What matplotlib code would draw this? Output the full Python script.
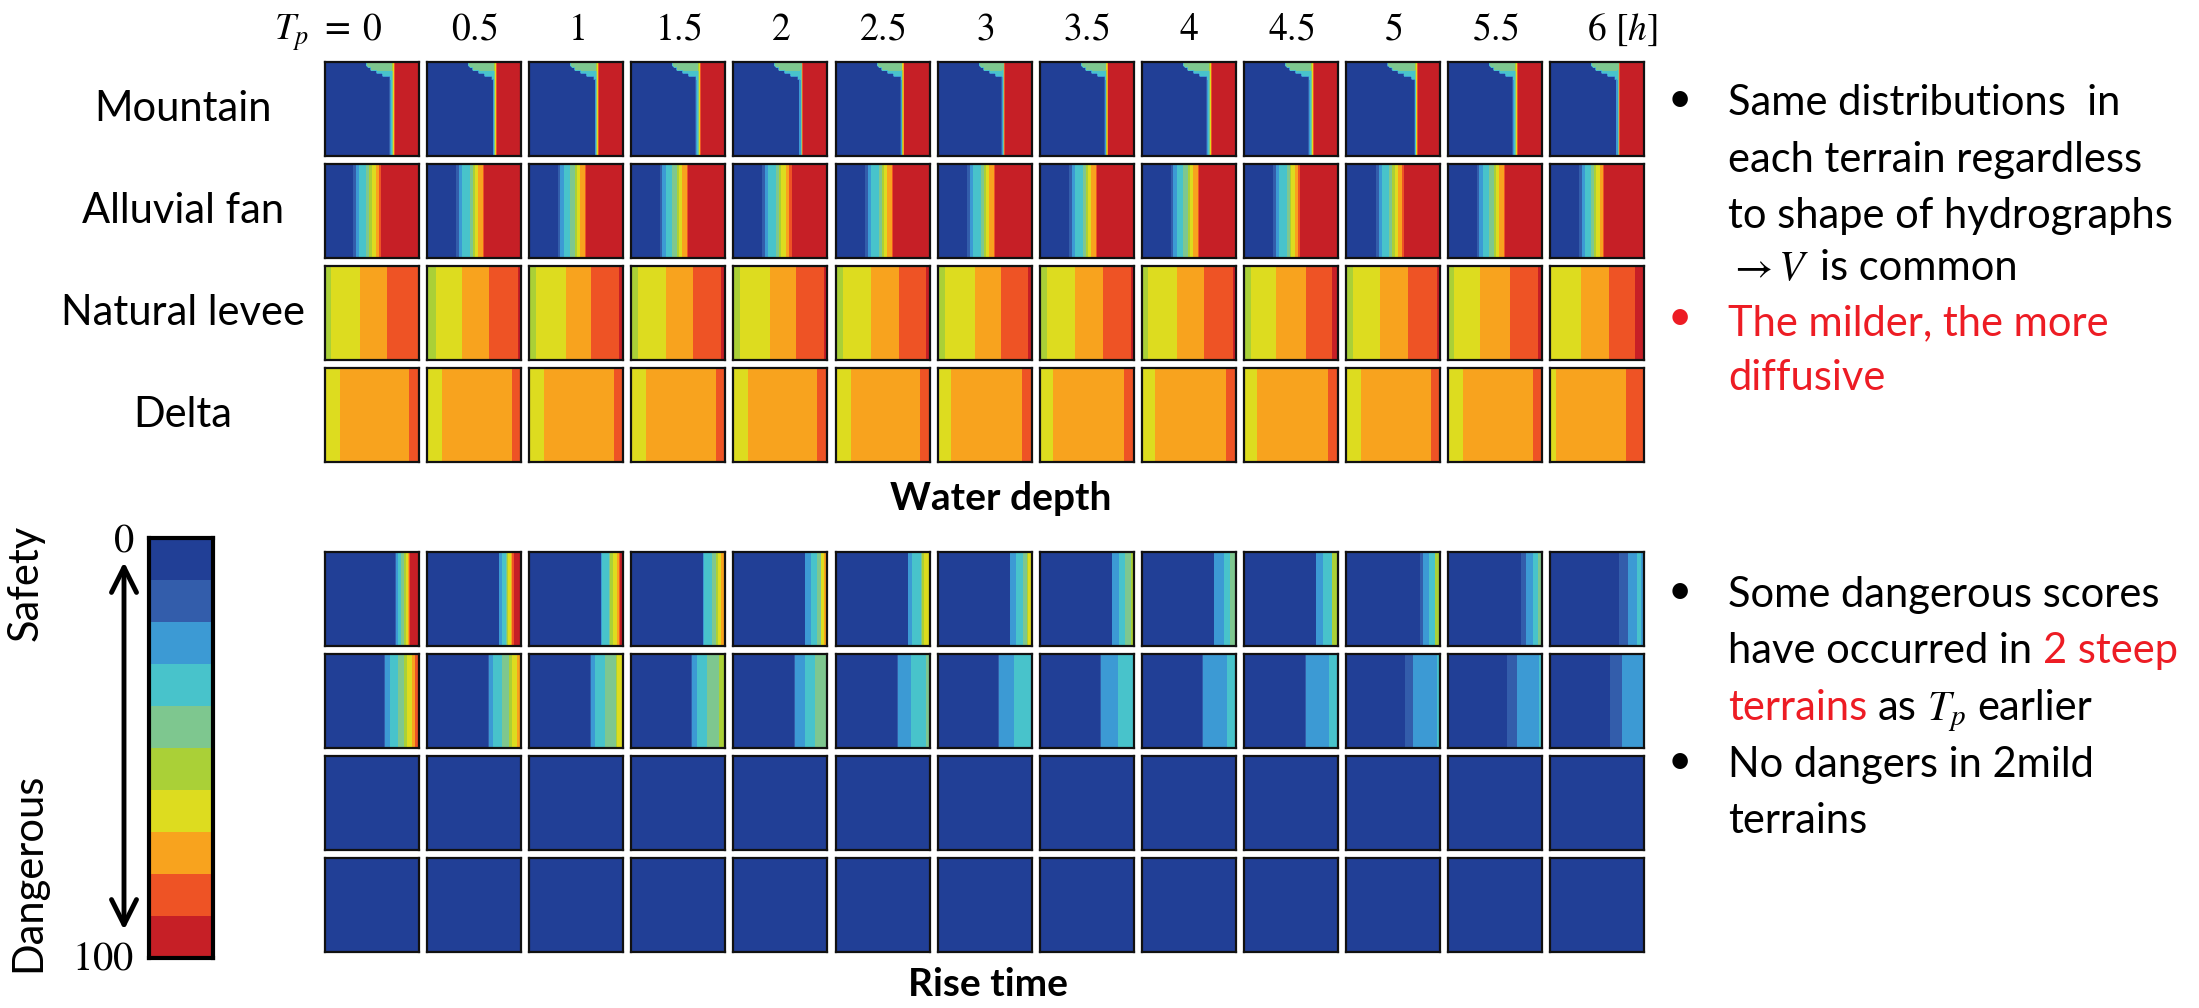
import numpy as np
import matplotlib.pyplot as plt
from matplotlib.colors import ListedColormap

plt.rcParams['mathtext.fontset'] = 'stix'
plt.rcParams['font.family'] = ['Lato', 'DejaVu Sans']

W, H = 2199, 1008

# score colours, 0 (safe) -> 100 (dangerous), one per 10 points
score_colors = ["#213F96", "#335DAB", "#3C9AD4", "#48C3CB", "#7EC78F",
                "#AAD037", "#DDDC1F", "#F8A31E", "#EE5325", "#C61F26"]
red_text = "#ED1C24"

tp_labels = ["0", "0.5", "1", "1.5", "2", "2.5", "3", "3.5", "4", "4.5", "5", "5.5", "6"]
terrains = ["Mountain", "Alluvial fan", "Natural levee", "Delta"]

# ---- water depth ----
# mountain: blue/red boundary (fraction of panel width) for each Tp
mtn_edge = [0.73, 0.735, 0.735, 0.73, 0.74, 0.72, 0.71, 0.72, 0.73, 0.73, 0.75, 0.73, 0.74]
# shallow blob at the top of the mountain panels (deepest first)
hook_depth = [0.19, 0.16, 0.13, 0.10, 0.07, 0.04]
hook_left = [0.69, 0.61, 0.54, 0.49, 0.46, 0.44]
hook_level = [3, 3, 3, 4, 4, 4]

# alluvial fan: end of blue zone, start of red zone
fan_blue_end = [0.30, 0.32, 0.31, 0.31, 0.32, 0.32, 0.32, 0.32, 0.31, 0.32, 0.32, 0.31, 0.32]
fan_red_start = [0.60, 0.61, 0.61, 0.61, 0.62, 0.61, 0.61, 0.61, 0.61, 0.60, 0.61, 0.61, 0.58]
fan_rel = [0.0, 0.07, 0.20, 0.45, 0.57, 0.66, 0.80, 0.92]   # levels 1..8 inside the transition

# natural levee: edges between levels 5|6|7|8|9
levee_edges = [
    [0.07, 0.37, 0.65, 0.98], [0.09, 0.38, 0.66, 0.97], [0.08, 0.39, 0.66, 0.96],
    [0.08, 0.38, 0.66, 0.96], [0.08, 0.39, 0.67, 0.97], [0.08, 0.37, 0.67, 0.96],
    [0.085, 0.39, 0.67, 0.96], [0.08, 0.375, 0.665, 0.97], [0.07, 0.37, 0.66, 0.965],
    [0.08, 0.35, 0.65, 0.93], [0.08, 0.36, 0.65, 0.95], [0.07, 0.35, 0.66, 0.96],
    [0.02, 0.33, 0.62, 0.90],
]
# delta: edges between levels 6|7|8|9
delta_edges = [
    [0.15, 0.89, 0.98], [0.15, 0.90, 0.99], [0.15, 0.90, 0.99], [0.15, 0.90, 0.99],
    [0.15, 0.89, 0.99], [0.15, 0.89, 0.99], [0.14, 0.89, 0.99], [0.14, 0.89, 0.99],
    [0.14, 0.89, 0.99], [0.14, 0.89, 0.99], [0.15, 0.89, 0.99], [0.16, 0.90, 0.99],
    [0.06, 0.81, 1.01],
]

# ---- rise time ---- (start fraction, level)
rise_mtn = [
    [(0, 0), (0.745, 1), (0.756, 2), (0.78, 3), (0.816, 4), (0.84, 5), (0.862, 6), (0.887, 7), (0.897, 8), (0.91, 9)],
    [(0, 0), (0.76, 2), (0.795, 3), (0.85, 4), (0.867, 6), (0.89, 7), (0.91, 8), (0.92, 9)],
    [(0, 0), (0.763, 2), (0.785, 3), (0.86, 5), (0.887, 6), (0.93, 7), (0.955, 8), (0.975, 9)],
    [(0, 0), (0.76, 2), (0.785, 3), (0.866, 4), (0.90, 5), (0.925, 6), (0.96, 7)],
    [(0, 0), (0.77, 2), (0.83, 3), (0.885, 4), (0.93, 6), (0.97, 7)],
    [(0, 0), (0.767, 2), (0.82, 3), (0.90, 5), (0.94, 6)],
    [(0, 0), (0.767, 2), (0.83, 3), (0.90, 4), (0.95, 6)],
    [(0, 0), (0.767, 2), (0.84, 3), (0.91, 4), (0.965, 5)],
    [(0, 0), (0.766, 2), (0.88, 3), (0.945, 4)],
    [(0, 0), (0.767, 2), (0.84, 3), (0.93, 5)],
    [(0, 0), (0.78, 1), (0.82, 2), (0.87, 3), (0.94, 5)],
    [(0, 0), (0.78, 1), (0.83, 2), (0.90, 3), (0.96, 4)],
    [(0, 0), (0.74, 1), (0.83, 2), (0.92, 3), (0.97, 2)],
]
rise_fan = [
    [(0, 0), (0.62, 1), (0.64, 2), (0.69, 3), (0.78, 4), (0.85, 5), (0.87, 6), (0.92, 7), (0.96, 8), (0.985, 9)],
    [(0, 0), (0.65, 1), (0.66, 2), (0.70, 3), (0.79, 4), (0.88, 5), (0.90, 6), (0.95, 7)],
    [(0, 0), (0.65, 2), (0.70, 3), (0.81, 4), (0.915, 5), (0.94, 6)],
    [(0, 0), (0.64, 2), (0.71, 3), (0.82, 4), (0.93, 5)],
    [(0, 0), (0.65, 2), (0.77, 3), (0.88, 4)],
    [(0, 0), (0.65, 2), (0.80, 3), (0.955, 4)],
    [(0, 0), (0.64, 2), (0.81, 3)],
    [(0, 0), (0.645, 2), (0.83, 3)],
    [(0, 0), (0.64, 2), (0.90, 3)],
    [(0, 0), (0.66, 2), (0.91, 3)],
    [(0, 0), (0.63, 1), (0.71, 2), (0.96, 3)],
    [(0, 0), (0.62, 1), (0.73, 2), (0.975, 3)],
    [(0, 0), (0.635, 1), (0.76, 2)],
]
rise_levee = [[(0, 0)] for _ in tp_labels]
rise_delta = [[(0, 0)] for _ in tp_labels]

NX = NY = 64
xs = (np.arange(NX) + 0.5) / NX
ys = (np.arange(NY) + 0.5) / NY


def bands_to_grid(bands):
    row = np.zeros(NX)
    for start, lev in bands:
        row[xs >= start] = lev
    return np.tile(row, (NY, 1))


def depth_grid(r, k):
    if r == 0:
        e = mtn_edge[k]
        g = bands_to_grid([(0, 0), (e - 0.035, 2), (e - 0.02, 3), (e - 0.01, 6), (e, 9)])
        for d, left, lev in zip(hook_depth, hook_left, hook_level):
            g[np.ix_(ys < d, (xs >= left) & (xs < e - 0.015))] = lev
        return g
    if r == 1:
        b, e = fan_blue_end[k], fan_red_start[k]
        bands = [(0, 0)] + [(b + f * (e - b), i + 1) for i, f in enumerate(fan_rel)] + [(e, 9)]
        return bands_to_grid(bands)
    if r == 2:
        return bands_to_grid([(0, 5)] + list(zip(levee_edges[k], [6, 7, 8, 9])))
    return bands_to_grid([(0, 6)] + list(zip(delta_edges[k], [7, 8, 9])))


cmap = ListedColormap(score_colors)

fig = plt.figure(figsize=(W / 100, H / 100), dpi=100)
bg = fig.add_axes([0, 0, 1, 1])
bg.set_xlim(0, W)
bg.set_ylim(H, 0)
bg.axis('off')

X0, PX, PY, PW, PH = 325, 102.1, 102, 94, 94
Y_DEPTH, Y_RISE = 62, 552


def panel(x, y, grid):
    ax = fig.add_axes([x / W, 1 - (y + PH) / H, PW / W, PH / H])
    ax.imshow(grid, cmap=cmap, vmin=-0.5, vmax=9.5, interpolation='bilinear',
              interpolation_stage='data', aspect='auto', extent=(0, 1, 1, 0))
    ax.set_xticks([])
    ax.set_yticks([])
    for s in ax.spines.values():
        s.set_linewidth(1.6)
        s.set_color('#111111')


rise_rows = [rise_mtn, rise_fan, rise_levee, rise_delta]
for r in range(4):
    for k in range(len(tp_labels)):
        x = X0 + k * PX
        panel(x, Y_DEPTH + r * PY, depth_grid(r, k))
        panel(x, Y_RISE + r * PY, bands_to_grid(rise_rows[r][k]))

# column and row labels
for k, lab in enumerate(tp_labels):
    cx = X0 + k * PX + PW / 2
    bg.text(cx, 40, "$" + lab + "$", fontsize=27, ha='center', va='baseline')
bg.text(X0 + PW / 2 - 22, 40, r"$T_p\ =$", fontsize=27, ha='right', va='baseline')
bg.text(X0 + 12 * PX + PW / 2 + 18, 40, r"$[h]$", fontsize=27, ha='left', va='baseline')

for r, name in enumerate(terrains):
    bg.text(183, Y_DEPTH + r * PY + PH / 2, name, fontsize=30, ha='center', va='center')

bg.text(1001, 498, "Water depth", fontsize=28, fontweight='bold', ha='center', va='center')
bg.text(988, 985, "Rise time", fontsize=28, fontweight='bold', ha='center', va='center')

# colour scale
cax = fig.add_axes([149 / W, 1 - 958 / H, 64 / W, 420 / H])
cax.imshow(np.arange(10).reshape(-1, 1), cmap=cmap, vmin=-0.5, vmax=9.5, aspect='auto',
           interpolation='nearest')
cax.set_xticks([])
cax.set_yticks([])
for s in cax.spines.values():
    s.set_linewidth(3)
bg.text(134, 552, "$0$", fontsize=29, ha='right', va='baseline')
bg.text(134, 969, "$100$", fontsize=29, ha='right', va='baseline')
bg.annotate('', xy=(124, 562), xytext=(124, 930),
            arrowprops=dict(arrowstyle='<->', lw=3.5, color='black', mutation_scale=45,
                            shrinkA=0, shrinkB=0))
bg.text(26, 583, "Safety", fontsize=30, rotation=90, ha='center', va='center')
bg.text(28, 872, "Dangerous", fontsize=30, rotation=90, ha='center', va='center')

# notes on the right
rend = fig.canvas.get_renderer()


def width_of(s, size):
    t = bg.text(0, 0, s, fontsize=size)
    w = t.get_window_extent(rend).width
    t.remove()
    return w


def write_runs(x, y, parts, size=30):
    sp = width_of("a a", size) - width_of("aa", size)
    for s, c in parts:
        lead = len(s) - len(s.lstrip(' '))
        core = s.strip(' ')
        x += lead * sp
        t = bg.text(x, y, core, color=c, fontsize=size, ha='left', va='baseline')
        x += t.get_window_extent(rend).width
        x += (len(s) - lead - len(core)) * sp


top_notes = [
    (115, [("Same distributions  in", 'black')]),
    (172, [("each terrain regardless", 'black')]),
    (228, [("to shape of hydrographs", 'black')]),
    (280, [(r"$\rightarrow V$", 'black'), (" is common", 'black')]),
    (335, [("The milder, the more", red_text)]),
    (390, [("diffusive", red_text)]),
]
bottom_notes = [
    (607, [("Some dangerous scores", 'black')]),
    (663, [("have occurred in ", 'black'), ("2 steep", red_text)]),
    (720, [("terrains", red_text), (" as ", 'black'), ("$T_p$", 'black'), (" earlier", 'black')]),
    (777, [("No dangers in 2mild", 'black')]),
    (833, [("terrains", 'black')]),
]
for y, parts in top_notes + bottom_notes:
    write_runs(1728, y, parts)

for y, c in [(100, 'black'), (318, red_text), (592, 'black'), (762, 'black')]:
    bg.text(1680, y, "\u2022", fontsize=30, color=c, ha='center', va='center')

fig.savefig("out.png", dpi=100)
